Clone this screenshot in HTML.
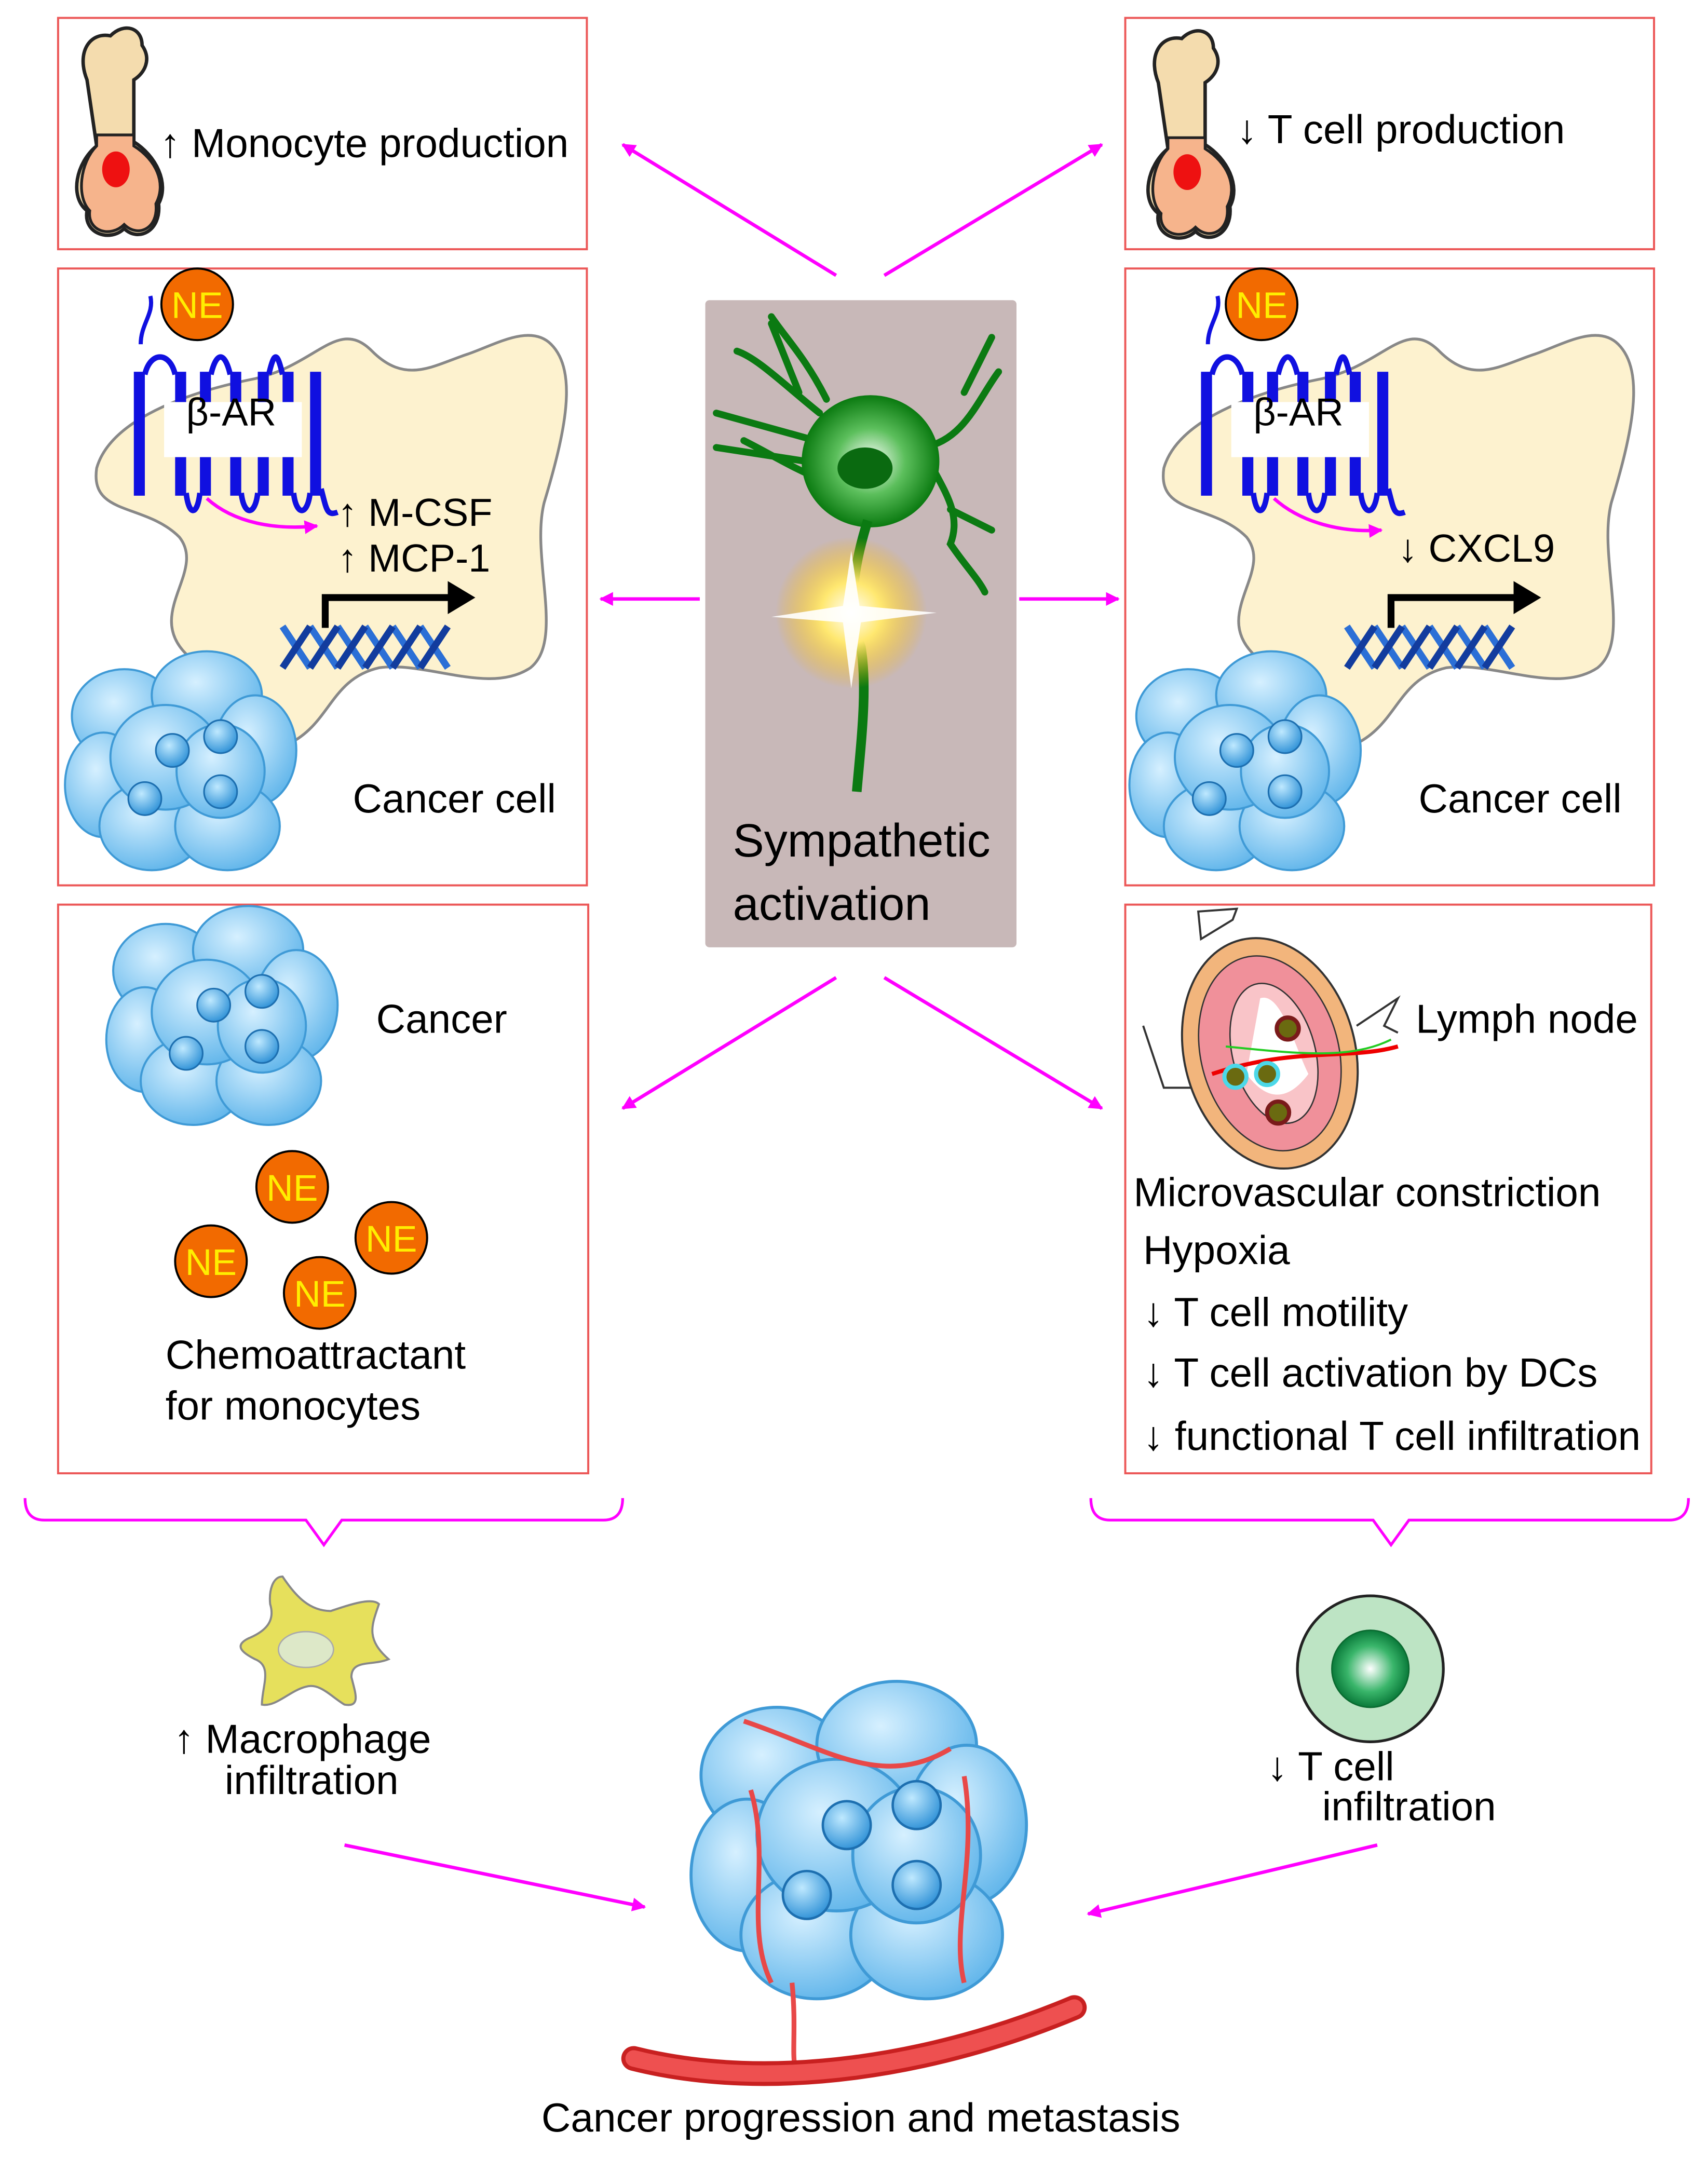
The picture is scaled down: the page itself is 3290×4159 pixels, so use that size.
<!DOCTYPE html>
<html><head><meta charset="utf-8"><style>
html,body{margin:0;padding:0;background:#fff}
svg{display:block}
text{font-family:"Liberation Sans",sans-serif;fill:#000}
</style></head><body>
<svg width="3290" height="4159" viewBox="0 0 1240 1568" xmlns="http://www.w3.org/2000/svg">
<defs>
<marker id="ah" markerWidth="10" markerHeight="10" refX="9" refY="5" orient="auto" markerUnits="userSpaceOnUse"><path d="M0,0 L10,5 L0,10 Z" fill="#ff00ff"/></marker>
<radialGradient id="cg" cx="40%" cy="35%" r="70%"><stop offset="0" stop-color="#d6f0ff"/><stop offset="1" stop-color="#5eb4ea"/></radialGradient>
<radialGradient id="ng" cx="40%" cy="35%" r="70%"><stop offset="0" stop-color="#bfe9ff"/><stop offset="1" stop-color="#2b8fd6"/></radialGradient>
<radialGradient id="star" cx="50%" cy="50%" r="50%"><stop offset="0" stop-color="#fff"/><stop offset="0.4" stop-color="#ffe870"/><stop offset="1" stop-color="#f6b400" stop-opacity="0"/></radialGradient>
<radialGradient id="neu" cx="50%" cy="50%" r="50%"><stop offset="0" stop-color="#fff"/><stop offset="0.5" stop-color="#5cbf5c"/><stop offset="1" stop-color="#0a7a10"/></radialGradient>
<radialGradient id="tc" cx="50%" cy="50%" r="50%"><stop offset="0" stop-color="#fff"/><stop offset="0.6" stop-color="#39b56a"/><stop offset="1" stop-color="#0a7a3a"/></radialGradient>
<g id="cluster">
<g fill="url(#cg)" stroke="#3f9ad6" stroke-width="1.5">
<ellipse cx="-40" cy="-35" rx="38" ry="34"/><ellipse cx="20" cy="-50" rx="40" ry="32"/><ellipse cx="55" cy="-10" rx="30" ry="40"/>
<ellipse cx="-55" cy="15" rx="28" ry="38"/><ellipse cx="-20" cy="45" rx="38" ry="32"/><ellipse cx="35" cy="45" rx="38" ry="32"/>
<ellipse cx="-10" cy="-5" rx="40" ry="38"/><ellipse cx="30" cy="5" rx="32" ry="34"/>
</g>
<g fill="url(#ng)" stroke="#1d6fb0" stroke-width="1.2">
<circle cx="-5" cy="-10" r="12"/><circle cx="30" cy="-20" r="12"/><circle cx="-25" cy="25" r="12"/><circle cx="30" cy="20" r="12"/>
</g>
</g>
<g id="bone">
<path d="M8,40 C0,20 10,5 25,8 C35,-2 48,2 48,15 C55,25 50,35 42,40 L42,85 C58,95 68,115 60,130 C62,150 45,158 35,148 C25,158 5,152 8,135 C-5,125 0,100 15,88 Z" fill="#f4dcae" stroke="#222" stroke-width="2.5"/>
<path d="M15,80 L42,80 L42,88 C58,98 66,115 58,130 C60,148 45,155 35,145 C25,155 8,150 10,135 C0,125 3,100 15,88 Z" fill="#f6b48c" stroke="#222" stroke-width="2"/>
<ellipse cx="29" cy="105" rx="10" ry="13" fill="#ee1111"/>
</g>
<g id="cell">
<path d="M30,145 C40,110 95,90 145,80 C190,70 205,35 230,60 C255,85 275,70 300,62 C320,55 345,40 360,55 C380,75 370,120 355,170 C345,210 370,270 345,290 C315,310 270,285 235,290 C200,298 200,330 170,345 C145,355 125,310 95,280 C65,250 110,220 90,195 C65,170 25,180 30,145 Z" fill="#fdf2cf" stroke="#888" stroke-width="2"/>
</g>
<g id="bar">
<path d="M5,40 C5,25 15,18 12,5" fill="none" stroke="#1010e0" stroke-width="3"/>
<g fill="#1010e0">
<rect x="0" y="60" width="8" height="90"/><rect x="30" y="60" width="8" height="90"/><rect x="48" y="60" width="8" height="90"/><rect x="70" y="60" width="8" height="90"/><rect x="90" y="60" width="8" height="90"/><rect x="108" y="60" width="8" height="90"/><rect x="128" y="60" width="8" height="90"/>
</g>
<g fill="none" stroke="#1010e0" stroke-width="4">
<path d="M8,62 C12,45 26,45 30,62"/><path d="M56,62 C60,45 66,45 70,62"/><path d="M98,62 C102,45 104,45 108,62"/>
<path d="M38,148 C40,165 46,165 48,148"/><path d="M78,148 C80,165 88,165 90,148"/><path d="M116,148 C118,165 126,165 128,148"/>
<path d="M136,145 C140,160 140,165 148,162"/>
</g>
<rect x="22" y="82" width="100" height="40" fill="#fff"/>
</g>
<g id="dna">
<g fill="none" stroke="#2b6fd6" stroke-width="5">
<path d="M0,0 Q10,15 20,30 M20,0 Q30,15 40,30 M40,0 Q50,15 60,30 M60,0 Q70,15 80,30 M80,0 Q90,15 100,30 M100,0 Q110,15 120,30"/>
</g>
<g fill="none" stroke="#123c9e" stroke-width="5">
<path d="M20,0 Q10,15 0,30 M40,0 Q30,15 20,30 M60,0 Q50,15 40,30 M80,0 Q70,15 60,30 M100,0 Q90,15 80,30 M120,0 Q110,15 100,30"/>
</g>
</g>
</defs>

<g fill="none" stroke="#ec5858" stroke-width="1.5">
<rect x="42" y="13" width="384" height="168"/><rect x="817" y="13" width="384" height="168"/>
<rect x="42" y="195" width="384" height="448"/><rect x="817" y="195" width="384" height="448"/>
<rect x="42" y="657" width="385" height="413"/><rect x="817" y="657" width="382" height="413"/>
</g>

<use href="#bone" x="55" y="18"/>
<text x="116" y="114" font-size="29.5">↑ Monocyte production</text>
<use href="#bone" x="833" y="20"/>
<text x="898" y="104" font-size="29.5">↓ T cell production</text>

<rect x="512" y="218" width="226" height="470" rx="3" fill="#c8b8b8"/>
<path d="M615,300 C640,280 665,300 670,325 C700,320 710,290 725,270 M720,245 L700,285 M670,325 C680,350 700,370 690,395 C700,410 710,420 715,430 M690,370 L720,385 M600,350 C575,340 560,330 540,320 M520,300 L585,318 M520,325 L585,335 M595,300 C570,280 550,260 535,255 M560,235 L580,285 M600,290 C585,260 570,245 560,230" fill="none" stroke="#0b7a12" stroke-width="5" stroke-linecap="round"/>
<ellipse cx="632" cy="335" rx="50" ry="48" fill="url(#neu)"/>
<path d="M630,378 C620,410 615,440 625,470 C630,500 625,540 622,575" fill="none" stroke="#0b7a12" stroke-width="7"/>
<ellipse cx="628" cy="340" rx="20" ry="15" fill="#0a6a10"/>
<circle cx="618" cy="445" r="55" fill="url(#star)"/>
<path d="M618,400 L624,440 L680,445 L625,452 L618,500 L612,452 L560,448 L612,440 Z" fill="#fff" opacity="0.9"/>
<text x="532" y="622" font-size="34">Sympathetic</text>
<text x="532" y="668" font-size="34">activation</text>

<use href="#cell" x="40" y="195"/>
<use href="#bar" x="97" y="210"/>
<text x="135" y="309" font-size="28.5">β-AR</text>
<circle cx="143" cy="221" r="26" fill="#f26a00" stroke="#000" stroke-width="1.5"/>
<text x="143" y="231" font-size="27" text-anchor="middle" style="fill:#ffee00">NE</text>
<path d="M150,362 C170,380 200,385 230,382" fill="none" stroke="#ff00ff" stroke-width="2.5" marker-end="url(#ah)"/>
<text x="245" y="382" font-size="28.5">↑ M-CSF</text>
<text x="245" y="415" font-size="28.5">↑ MCP-1</text>
<path d="M236,456 L236,434 L330,434" fill="none" stroke="#000" stroke-width="5"/>
<path d="M325,422 L345,434 L325,446 Z" fill="#000"/>
<use href="#dna" x="205" y="455"/>
<use href="#cluster" x="130" y="555"/>
<text x="256" y="590" font-size="29.5">Cancer cell</text>

<use href="#cell" x="815" y="195"/>
<use href="#bar" x="872" y="210"/>
<text x="910" y="309" font-size="28.5">β-AR</text>
<circle cx="916" cy="221" r="26" fill="#f26a00" stroke="#000" stroke-width="1.5"/>
<text x="916" y="231" font-size="27" text-anchor="middle" style="fill:#ffee00">NE</text>
<path d="M925,362 C945,380 975,387 1003,385" fill="none" stroke="#ff00ff" stroke-width="2.5" marker-end="url(#ah)"/>
<text x="1015" y="408" font-size="28.5">↓ CXCL9</text>
<path d="M1010,456 L1010,434 L1104,434" fill="none" stroke="#000" stroke-width="5"/>
<path d="M1099,422 L1119,434 L1099,446 Z" fill="#000"/>
<use href="#dna" x="978" y="455"/>
<use href="#cluster" x="903" y="555"/>
<text x="1030" y="590" font-size="29.5">Cancer cell</text>

<use href="#cluster" x="160" y="740"/>
<text x="273" y="750" font-size="29.5">Cancer</text>
<g font-size="27" text-anchor="middle">
<circle cx="212" cy="862" r="26" fill="#f26a00" stroke="#000" stroke-width="1.5"/><text x="212" y="872" style="fill:#ffee00">NE</text>
<circle cx="284" cy="899" r="26" fill="#f26a00" stroke="#000" stroke-width="1.5"/><text x="284" y="909" style="fill:#ffee00">NE</text>
<circle cx="153" cy="916" r="26" fill="#f26a00" stroke="#000" stroke-width="1.5"/><text x="153" y="926" style="fill:#ffee00">NE</text>
<circle cx="232" cy="939" r="26" fill="#f26a00" stroke="#000" stroke-width="1.5"/><text x="232" y="949" style="fill:#ffee00">NE</text>
</g>
<text x="120" y="994" font-size="29.5">Chemoattractant</text>
<text x="120" y="1031" font-size="29.5">for monocytes</text>

<path d="M872,682 L895,668 L898,660 L870,662 Z M830,745 L845,790 L870,790" fill="none" stroke="#333" stroke-width="1.5"/>
<ellipse cx="922" cy="765" rx="62" ry="85" transform="rotate(-15 922 765)" fill="#f2b57c" stroke="#333" stroke-width="1.5"/>
<ellipse cx="922" cy="765" rx="50" ry="72" transform="rotate(-15 922 765)" fill="#f0909a" stroke="#333" stroke-width="1"/>
<ellipse cx="925" cy="765" rx="30" ry="52" transform="rotate(-15 925 765)" fill="#f9c4c8" stroke="#333" stroke-width="1"/>
<path d="M915,725 C930,720 940,760 950,780 C935,800 920,800 905,780 Z" fill="#fff"/>
<path d="M880,780 C940,760 980,770 1015,760" fill="none" stroke="#e00" stroke-width="3"/>
<path d="M890,760 C940,765 980,770 1010,755" fill="none" stroke="#2c2" stroke-width="1.5"/>
<circle cx="935" cy="747" r="8" fill="#6a6a10" stroke="#7a1a1a" stroke-width="3"/>
<circle cx="897" cy="782" r="8" fill="#6a6a10" stroke="#4cd8e8" stroke-width="3"/>
<circle cx="920" cy="780" r="8" fill="#6a6a10" stroke="#4cd8e8" stroke-width="3"/>
<circle cx="928" cy="808" r="8" fill="#6a6a10" stroke="#7a1a1a" stroke-width="3"/>
<path d="M985,745 L1015,725 L1005,745 L1015,750" fill="none" stroke="#333" stroke-width="1.5"/>
<text x="1028" y="750" font-size="29.5">Lymph node</text>
<text x="823" y="876" font-size="29.5">Microvascular constriction</text>
<text x="830" y="918" font-size="29.5">Hypoxia</text>
<text x="830" y="963" font-size="29.5">↓ T cell motility</text>
<text x="830" y="1007" font-size="29.5">↓ T cell activation by DCs</text>
<text x="830" y="1053" font-size="29.5">↓ functional T cell infiltration</text>

<g stroke="#ff00ff" stroke-width="2.5" marker-end="url(#ah)">
<line x1="607" y1="200" x2="452" y2="105"/><line x1="642" y1="200" x2="800" y2="105"/>
<line x1="508" y1="435" x2="436" y2="435"/><line x1="740" y1="435" x2="812" y2="435"/>
<line x1="607" y1="710" x2="452" y2="805"/><line x1="642" y1="710" x2="800" y2="805"/>
<line x1="250" y1="1340" x2="468" y2="1385"/><line x1="1000" y1="1340" x2="790" y2="1390"/>
</g>

<g fill="none" stroke="#ff00ff" stroke-width="2">
<path d="M18,1088 Q18,1104 32,1104 L222,1104 L235,1122 L248,1104 L438,1104 Q452,1104 452,1088"/>
<path d="M792,1088 Q792,1104 806,1104 L997,1104 L1010,1122 L1023,1104 L1212,1104 Q1226,1104 1226,1088"/>
</g>

<path d="M205,1145 C215,1160 225,1170 240,1170 C255,1165 270,1160 275,1165 C270,1180 265,1190 282,1205 C270,1210 255,1205 255,1218 C258,1230 262,1240 250,1238 C240,1232 232,1222 222,1225 C210,1228 200,1240 190,1238 C190,1225 198,1210 185,1205 C175,1200 170,1195 180,1190 C192,1185 200,1178 196,1165 C195,1155 198,1145 205,1145 Z" fill="#e6e05c" stroke="#888" stroke-width="1.5"/>
<ellipse cx="222" cy="1198" rx="20" ry="13" fill="#dde8c8" stroke="#aaa"/>
<text x="126" y="1273" font-size="29.5">↑  Macrophage</text>
<text x="163" y="1303" font-size="29.5">infiltration</text>

<circle cx="995" cy="1212" r="53" fill="#bde4c4" stroke="#222" stroke-width="2"/>
<circle cx="995" cy="1212" r="28" fill="url(#tc)" stroke="#0a6a30" stroke-width="1"/>
<text x="920" y="1293" font-size="29.5">↓  T cell</text>
<text x="960" y="1322" font-size="29.5">infiltration</text>

<g transform="translate(622,1340) scale(1.45)">
<use href="#cluster"/>
</g>
<path d="M540,1250 C600,1270 640,1300 690,1270 M545,1300 C560,1350 540,1400 560,1440 M700,1290 C710,1350 690,1400 700,1440 M575,1440 C578,1470 575,1490 577,1500" fill="none" stroke="#e84848" stroke-width="3.5"/>
<path d="M460,1495 C560,1520 680,1500 780,1458" fill="none" stroke="#c82020" stroke-width="18" stroke-linecap="round"/>
<path d="M460,1495 C560,1520 680,1500 780,1458" fill="none" stroke="#ee5050" stroke-width="12" stroke-linecap="round"/>
<text x="625" y="1548" font-size="29.5" text-anchor="middle">Cancer progression and metastasis</text>
</svg>
</body></html>
